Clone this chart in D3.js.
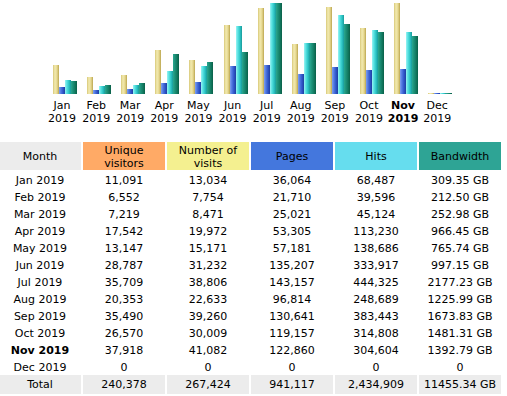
<!DOCTYPE html>
<html><head><meta charset="utf-8">
<script src="https://cdn.jsdelivr.net/npm/d3@7"></script>
<style>body{margin:0;background:#fff}svg{display:block;font-family:"DejaVu Sans",Verdana,sans-serif;font-size:11px}</style>
</head><body>
<script>
const months = ["Jan","Feb","Mar","Apr","May","Jun","Jul","Aug","Sep","Oct","Nov","Dec"];
const year = "2019";
const currentMonth = "Nov";
const visitors = [11091,6552,7219,17542,13147,28787,35709,20353,35490,26570,37918,0];
const visits = [13034,7754,8471,19972,15171,31232,38806,22633,39260,30009,41082,0];
const pages = [36064,21710,25021,53305,57181,135207,143157,96814,130641,119157,122860,0];
const hits = [68487,39596,45124,113230,138686,333917,444325,248689,383443,314808,304604,0];
const bandwidth = [309.35,212.50,252.98,966.45,765.74,997.15,2177.23,1225.99,1673.83,1481.31,1392.79,0];
const totalsRow = ["Total","240,378","267,424","941,117","2,434,909","11455.34 GB"];
const headers = [["Month"],["Unique","visitors"],["Number of","visits"],["Pages"],["Hits"],["Bandwidth"]];
const headerColors = ["#ECECEC","#FFAA66","#F4F090","#4477DD","#66DDEE","#2EA495"];

const W=507,H=396;
const svg=d3.select("body").append("svg").attr("width",W).attr("height",H);
const defs=svg.append("defs");
const grads={
 v:["#d8c878","#f2eab0","#e6d890","#bba650"],
 p:["#7fa0f0","#4f77e0","#2f55c8","#1f3ea0"],
 h:["#99f4f4","#55e0e0","#2cc4c4","#1a9a9a"],
 k:["#2aa890","#1c9078","#127a60","#0a5f48"]
};
Object.entries(grads).forEach(([k,c])=>{
  const g=defs.append("linearGradient").attr("id","g"+k).attr("x1","0").attr("x2","1").attr("y1","0").attr("y2","0");
  c.forEach((col,i)=>g.append("stop").attr("offset",i/(c.length-1)).attr("stop-color",col));
});

const base=94, maxH=91;
const x=d3.scaleBand().domain(months).range([48,48+12*34.1]).padding(0);
const yV=d3.scaleLinear().domain([0,d3.max(visits)]).range([0,maxH]);
const yH=d3.scaleLinear().domain([0,d3.max(hits)]).range([0,maxH]);
const yK=d3.scaleLinear().domain([0,d3.max(bandwidth)]).range([0,maxH]);
const series=[["v",visits,yV],["p",pages,yH],["h",hits,yH],["k",bandwidth,yK]];
const bw=6, off=(x.bandwidth()-4*bw)/2;
series.forEach(([k,vals,sc],j)=>{
  svg.append("g").selectAll("rect").data(months).join("rect")
    .attr("x",(m)=>Math.round(x(m)+off)+j*bw)
    .attr("width",bw)
    .attr("y",(m,i)=>base-Math.max(1,Math.round(sc(vals[i]))))
    .attr("height",(m,i)=>Math.max(1,Math.round(sc(vals[i]))))
    .attr("fill","url(#g"+k+")");
});
const lab=svg.append("g").selectAll("text").data(months).join("text")
  .attr("text-anchor","middle")
  .attr("x",m=>x(m)+x.bandwidth()/2-3)
  .attr("font-weight",m=>m===currentMonth?"bold":null)
  .attr("fill","#000");
lab.append("tspan").attr("y",109).attr("x",m=>x(m)+x.bandwidth()/2-3).text(m=>m);
lab.append("tspan").attr("y",122).attr("x",m=>x(m)+x.bandwidth()/2-3).text(year);

// table
const cols=d3.range(6);
const cx=i=>84*i-1, cw=82;
svg.append("g").selectAll("rect").data(cols).join("rect")
  .attr("x",cx).attr("y",142).attr("width",cw).attr("height",28).attr("fill",i=>headerColors[i]);
const ht=svg.append("g").selectAll("text").data(cols).join("text").attr("text-anchor","middle").attr("fill","#000");
ht.each(function(i){
  const lines=headers[i], t=d3.select(this);
  const ys=lines.length===1?[160]:[154,167];
  lines.forEach((l,k)=>t.append("tspan").attr("x",cx(i)+cw/2).attr("y",ys[k]).text(l));
});
const fmt=d3.format(",");
const fmtB=v=>v===0?"0":v.toFixed(2)+" GB";
const rows=months.map((m,i)=>[m+" "+year,fmt(visitors[i]),fmt(visits[i]),fmt(pages[i]),fmt(hits[i]),fmtB(bandwidth[i])]);
rows.forEach((r,i)=>{
  const g=svg.append("g");
  g.selectAll("text").data(r).join("text").attr("text-anchor","middle")
   .attr("x",(d,c)=>cx(c)+cw/2).attr("y",184+17*i).attr("fill","#000")
   .attr("font-weight",(d,c)=>c===0&&months[i]===currentMonth?"bold":null).text(d=>d);
});
svg.append("g").selectAll("rect").data(cols).join("rect")
  .attr("x",cx).attr("y",375).attr("width",cw).attr("height",19).attr("fill","#ECECEC");
svg.append("g").selectAll("text").data(totalsRow).join("text").attr("text-anchor","middle")
  .attr("x",(d,c)=>cx(c)+cw/2).attr("y",388).attr("fill","#000").text(d=>d);
</script>
</body></html>
